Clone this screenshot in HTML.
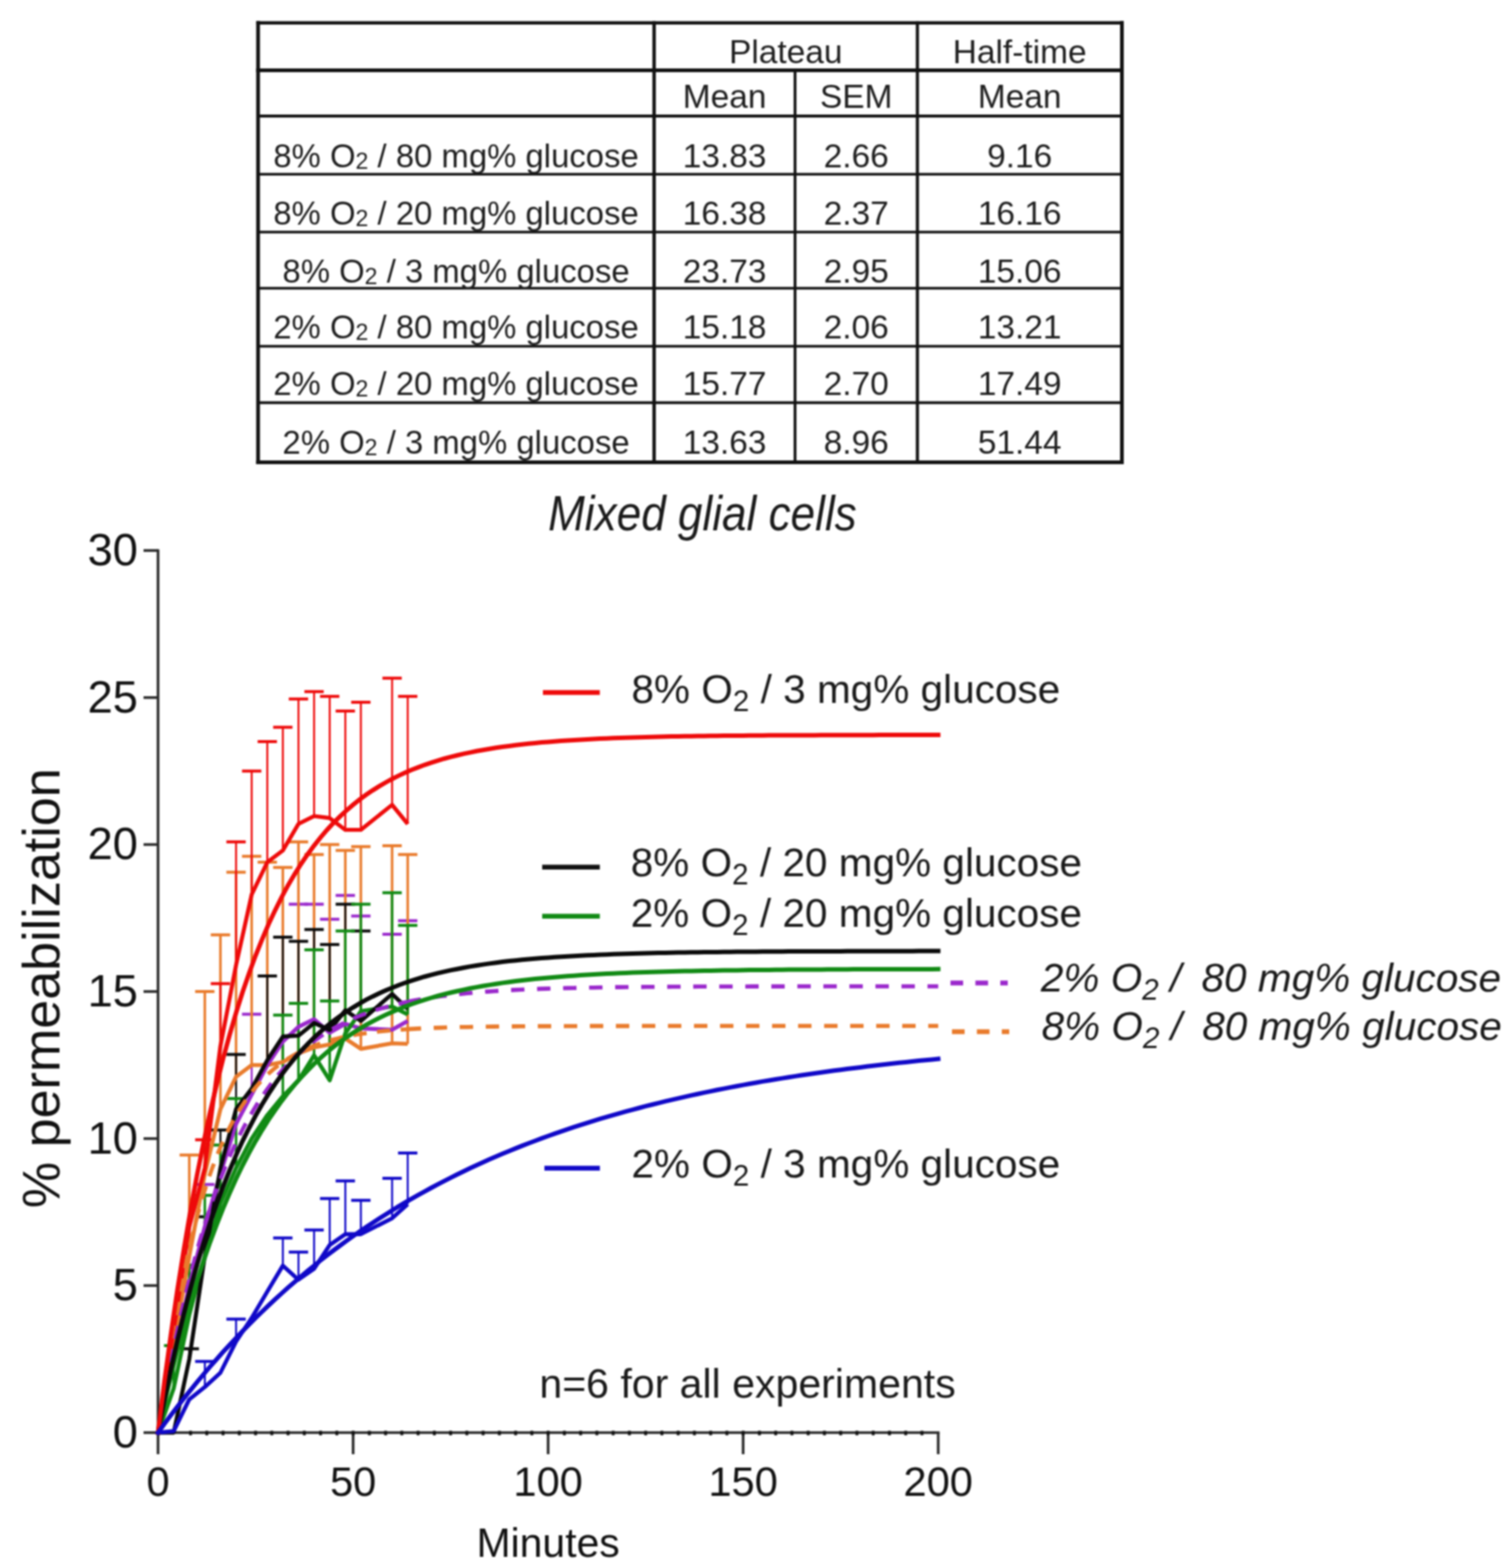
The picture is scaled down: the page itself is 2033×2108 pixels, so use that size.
<!DOCTYPE html><html><head><meta charset="utf-8"><style>html,body{margin:0;padding:0;background:#fff}svg{display:block;filter:blur(1px)}</style></head><body>
<svg width="2033" height="2108" viewBox="0 0 2033 2108">
<rect width="2033" height="2108" fill="#fff"/>
<g stroke="#111" stroke-linecap="square"><line x1="347.0" y1="30.8" x2="1508.5" y2="30.8" stroke-width="4.5"/><line x1="347.0" y1="94.5" x2="1508.5" y2="94.5" stroke-width="5.0"/><line x1="347.0" y1="156.0" x2="1508.5" y2="156.0" stroke-width="4.0"/><line x1="347.0" y1="234.2" x2="1508.5" y2="234.2" stroke-width="3.6"/><line x1="347.0" y1="312.0" x2="1508.5" y2="312.0" stroke-width="3.6"/><line x1="347.0" y1="387.5" x2="1508.5" y2="387.5" stroke-width="3.6"/><line x1="347.0" y1="465.5" x2="1508.5" y2="465.5" stroke-width="3.6"/><line x1="347.0" y1="541.4" x2="1508.5" y2="541.4" stroke-width="3.6"/><line x1="347.0" y1="621.5" x2="1508.5" y2="621.5" stroke-width="5.0"/><line x1="347.0" y1="30.8" x2="347.0" y2="621.5" stroke-width="5"/><line x1="1508.5" y1="30.8" x2="1508.5" y2="621.5" stroke-width="5"/><line x1="879.5" y1="30.8" x2="879.5" y2="621.5" stroke-width="4.6"/><line x1="1233.5" y1="30.8" x2="1233.5" y2="621.5" stroke-width="4.2"/><line x1="1069.0" y1="94.5" x2="1069.0" y2="621.5" stroke-width="3.8"/></g>
<g font-family="Liberation Sans, Arial, sans-serif" font-size="45" fill="#1e1e1e" text-anchor="middle">
<text x="1056.5" y="84.8">Plateau</text>
<text x="1371.0" y="84.8">Half-time</text>
<text x="974.2" y="144.6">Mean</text>
<text x="1151.2" y="144.6">SEM</text>
<text x="1371.0" y="144.6">Mean</text>
<text x="613.2" y="224.6" font-size="44.2">8% O<tspan font-size="31" dy="2">2</tspan><tspan dy="-2"> / 80 mg% glucose</tspan></text>
<text x="974.2" y="224.6">13.83</text>
<text x="1151.2" y="224.6">2.66</text>
<text x="1371.0" y="224.6">9.16</text>
<text x="613.2" y="301.8" font-size="44.2">8% O<tspan font-size="31" dy="2">2</tspan><tspan dy="-2"> / 20 mg% glucose</tspan></text>
<text x="974.2" y="301.8">16.38</text>
<text x="1151.2" y="301.8">2.37</text>
<text x="1371.0" y="301.8">16.16</text>
<text x="613.2" y="379.6" font-size="44.2">8% O<tspan font-size="31" dy="2">2</tspan><tspan dy="-2"> / 3 mg% glucose</tspan></text>
<text x="974.2" y="379.6">23.73</text>
<text x="1151.2" y="379.6">2.95</text>
<text x="1371.0" y="379.6">15.06</text>
<text x="613.2" y="454.6" font-size="44.2">2% O<tspan font-size="31" dy="2">2</tspan><tspan dy="-2"> / 80 mg% glucose</tspan></text>
<text x="974.2" y="454.6">15.18</text>
<text x="1151.2" y="454.6">2.06</text>
<text x="1371.0" y="454.6">13.21</text>
<text x="613.2" y="530.5" font-size="44.2">2% O<tspan font-size="31" dy="2">2</tspan><tspan dy="-2"> / 20 mg% glucose</tspan></text>
<text x="974.2" y="530.5">15.77</text>
<text x="1151.2" y="530.5">2.70</text>
<text x="1371.0" y="530.5">17.49</text>
<text x="613.2" y="609.6" font-size="44.2">2% O<tspan font-size="31" dy="2">2</tspan><tspan dy="-2"> / 3 mg% glucose</tspan></text>
<text x="974.2" y="609.6">13.63</text>
<text x="1151.2" y="609.6">8.96</text>
<text x="1371.0" y="609.6">51.44</text>
</g>
<text x="737" y="712.5" font-family="Liberation Sans, Arial, sans-serif" font-style="italic" font-size="66" fill="#1a1a1a" textLength="415" lengthAdjust="spacingAndGlyphs">Mixed glial cells</text>
<g stroke="#2a2a2a" fill="none" stroke-width="3.6"><line x1="212.5" y1="738.6" x2="212.5" y2="1955.0"/><line x1="210.7" y1="1926.0" x2="1263.3" y2="1926.0"/><line x1="193.0" y1="1926.0" x2="212.5" y2="1926.0"/><line x1="193.0" y1="1728.3" x2="212.5" y2="1728.3"/><line x1="193.0" y1="1530.7" x2="212.5" y2="1530.7"/><line x1="193.0" y1="1333.0" x2="212.5" y2="1333.0"/><line x1="193.0" y1="1135.4" x2="212.5" y2="1135.4"/><line x1="193.0" y1="937.8" x2="212.5" y2="937.8"/><line x1="193.0" y1="740.1" x2="212.5" y2="740.1"/><line x1="474.8" y1="1926.0" x2="474.8" y2="1955.0"/><line x1="737.0" y1="1926.0" x2="737.0" y2="1955.0"/><line x1="999.2" y1="1926.0" x2="999.2" y2="1955.0"/><line x1="1261.5" y1="1926.0" x2="1261.5" y2="1955.0"/></g><line x1="254.21" y1="1926.5" x2="1257.5" y2="1926.5" stroke="#111" stroke-width="6" stroke-dasharray="4 17.854" />
<g font-family="Liberation Sans, Arial, sans-serif" fill="#111"><text x="185.5" y="1946.0" font-size="61" text-anchor="end">0</text><text x="185.5" y="1748.3" font-size="61" text-anchor="end">5</text><text x="185.5" y="1550.7" font-size="61" text-anchor="end">10</text><text x="185.5" y="1353.0" font-size="61" text-anchor="end">15</text><text x="185.5" y="1155.4" font-size="61" text-anchor="end">20</text><text x="185.5" y="957.8" font-size="61" text-anchor="end">25</text><text x="185.5" y="760.1" font-size="61" text-anchor="end">30</text><text x="212.5" y="2011" font-size="56" text-anchor="middle">0</text><text x="474.8" y="2011" font-size="56" text-anchor="middle">50</text><text x="737.0" y="2011" font-size="56" text-anchor="middle">100</text><text x="999.2" y="2011" font-size="56" text-anchor="middle">150</text><text x="1261.5" y="2011" font-size="56" text-anchor="middle">200</text><text x="737.0" y="2092.8" font-size="55" text-anchor="middle">Minutes</text><text transform="translate(79.6 1328.5) rotate(-90)" font-size="70" text-anchor="middle">% permeabilization</text></g>
<g fill="none"><line x1="275.4" y1="1649.3" x2="275.4" y2="1592.4" stroke="#9a28cc" stroke-width="2.6"/><line x1="262.4" y1="1592.4" x2="288.4" y2="1592.4" stroke="#9a28cc" stroke-width="4"/><line x1="338.4" y1="1471.4" x2="338.4" y2="1363.5" stroke="#9a28cc" stroke-width="2.6"/><line x1="325.4" y1="1363.5" x2="351.4" y2="1363.5" stroke="#9a28cc" stroke-width="4"/><line x1="401.3" y1="1380.5" x2="401.3" y2="1215.6" stroke="#9a28cc" stroke-width="2.6"/><line x1="388.3" y1="1215.6" x2="414.3" y2="1215.6" stroke="#9a28cc" stroke-width="4"/><line x1="422.3" y1="1370.2" x2="422.3" y2="1215.6" stroke="#9a28cc" stroke-width="2.6"/><line x1="409.3" y1="1215.6" x2="435.3" y2="1215.6" stroke="#9a28cc" stroke-width="4"/><line x1="443.3" y1="1388.4" x2="443.3" y2="1235.8" stroke="#9a28cc" stroke-width="2.6"/><line x1="430.3" y1="1235.8" x2="456.3" y2="1235.8" stroke="#9a28cc" stroke-width="4"/><line x1="464.3" y1="1376.5" x2="464.3" y2="1203.8" stroke="#9a28cc" stroke-width="2.6"/><line x1="451.3" y1="1203.8" x2="477.3" y2="1203.8" stroke="#9a28cc" stroke-width="4"/><line x1="485.2" y1="1382.5" x2="485.2" y2="1231.5" stroke="#9a28cc" stroke-width="2.6"/><line x1="472.2" y1="1231.5" x2="498.2" y2="1231.5" stroke="#9a28cc" stroke-width="4"/><line x1="527.2" y1="1384.4" x2="527.2" y2="1256.0" stroke="#9a28cc" stroke-width="2.6"/><line x1="514.2" y1="1256.0" x2="540.2" y2="1256.0" stroke="#9a28cc" stroke-width="4"/><line x1="548.2" y1="1372.6" x2="548.2" y2="1237.8" stroke="#9a28cc" stroke-width="2.6"/><line x1="535.2" y1="1237.8" x2="561.2" y2="1237.8" stroke="#9a28cc" stroke-width="4"/><line x1="254.5" y1="1688.8" x2="254.5" y2="1552.8" stroke="#e97b2c" stroke-width="3.4"/><line x1="241.5" y1="1552.8" x2="267.5" y2="1552.8" stroke="#e97b2c" stroke-width="4"/><line x1="275.4" y1="1578.1" x2="275.4" y2="1333.0" stroke="#e97b2c" stroke-width="3.4"/><line x1="262.4" y1="1333.0" x2="288.4" y2="1333.0" stroke="#e97b2c" stroke-width="4"/><line x1="296.4" y1="1491.2" x2="296.4" y2="1256.8" stroke="#e97b2c" stroke-width="3.4"/><line x1="283.4" y1="1256.8" x2="309.4" y2="1256.8" stroke="#e97b2c" stroke-width="4"/><line x1="317.4" y1="1447.7" x2="317.4" y2="1172.6" stroke="#e97b2c" stroke-width="3.4"/><line x1="304.4" y1="1172.6" x2="330.4" y2="1172.6" stroke="#e97b2c" stroke-width="4"/><line x1="338.4" y1="1431.9" x2="338.4" y2="1151.2" stroke="#e97b2c" stroke-width="3.4"/><line x1="325.4" y1="1151.2" x2="351.4" y2="1151.2" stroke="#e97b2c" stroke-width="4"/><line x1="359.4" y1="1431.9" x2="359.4" y2="1159.1" stroke="#e97b2c" stroke-width="3.4"/><line x1="346.4" y1="1159.1" x2="372.4" y2="1159.1" stroke="#e97b2c" stroke-width="4"/><line x1="380.3" y1="1427.9" x2="380.3" y2="1166.2" stroke="#e97b2c" stroke-width="3.4"/><line x1="367.3" y1="1166.2" x2="393.3" y2="1166.2" stroke="#e97b2c" stroke-width="4"/><line x1="401.3" y1="1416.1" x2="401.3" y2="1131.8" stroke="#e97b2c" stroke-width="3.4"/><line x1="388.3" y1="1131.8" x2="414.3" y2="1131.8" stroke="#e97b2c" stroke-width="4"/><line x1="422.3" y1="1408.2" x2="422.3" y2="1148.8" stroke="#e97b2c" stroke-width="3.4"/><line x1="409.3" y1="1148.8" x2="435.3" y2="1148.8" stroke="#e97b2c" stroke-width="4"/><line x1="443.3" y1="1404.2" x2="443.3" y2="1135.4" stroke="#e97b2c" stroke-width="3.4"/><line x1="430.3" y1="1135.4" x2="456.3" y2="1135.4" stroke="#e97b2c" stroke-width="4"/><line x1="464.3" y1="1396.3" x2="464.3" y2="1143.3" stroke="#e97b2c" stroke-width="3.4"/><line x1="451.3" y1="1143.3" x2="477.3" y2="1143.3" stroke="#e97b2c" stroke-width="4"/><line x1="485.2" y1="1410.1" x2="485.2" y2="1138.2" stroke="#e97b2c" stroke-width="3.4"/><line x1="472.2" y1="1138.2" x2="498.2" y2="1138.2" stroke="#e97b2c" stroke-width="4"/><line x1="527.2" y1="1402.6" x2="527.2" y2="1137.0" stroke="#e97b2c" stroke-width="3.4"/><line x1="514.2" y1="1137.0" x2="540.2" y2="1137.0" stroke="#e97b2c" stroke-width="4"/><line x1="548.2" y1="1403.4" x2="548.2" y2="1148.8" stroke="#e97b2c" stroke-width="3.4"/><line x1="535.2" y1="1148.8" x2="561.2" y2="1148.8" stroke="#e97b2c" stroke-width="4"/><line x1="254.5" y1="1827.2" x2="254.5" y2="1813.3" stroke="#0a0a0a" stroke-width="2.6"/><line x1="241.5" y1="1813.3" x2="267.5" y2="1813.3" stroke="#0a0a0a" stroke-width="4"/><line x1="275.4" y1="1688.8" x2="275.4" y2="1635.8" stroke="#0a0a0a" stroke-width="2.6"/><line x1="262.4" y1="1635.8" x2="288.4" y2="1635.8" stroke="#0a0a0a" stroke-width="4"/><line x1="296.4" y1="1570.2" x2="296.4" y2="1519.2" stroke="#0a0a0a" stroke-width="2.6"/><line x1="283.4" y1="1519.2" x2="309.4" y2="1519.2" stroke="#0a0a0a" stroke-width="4"/><line x1="317.4" y1="1491.2" x2="317.4" y2="1417.6" stroke="#0a0a0a" stroke-width="2.6"/><line x1="304.4" y1="1417.6" x2="330.4" y2="1417.6" stroke="#0a0a0a" stroke-width="4"/><line x1="359.4" y1="1425.2" x2="359.4" y2="1312.1" stroke="#0a0a0a" stroke-width="2.6"/><line x1="346.4" y1="1312.1" x2="372.4" y2="1312.1" stroke="#0a0a0a" stroke-width="4"/><line x1="380.3" y1="1393.5" x2="380.3" y2="1259.9" stroke="#0a0a0a" stroke-width="2.6"/><line x1="367.3" y1="1259.9" x2="393.3" y2="1259.9" stroke="#0a0a0a" stroke-width="4"/><line x1="401.3" y1="1392.3" x2="401.3" y2="1265.5" stroke="#0a0a0a" stroke-width="2.6"/><line x1="388.3" y1="1265.5" x2="414.3" y2="1265.5" stroke="#0a0a0a" stroke-width="4"/><line x1="422.3" y1="1375.3" x2="422.3" y2="1249.6" stroke="#0a0a0a" stroke-width="2.6"/><line x1="409.3" y1="1249.6" x2="435.3" y2="1249.6" stroke="#0a0a0a" stroke-width="4"/><line x1="443.3" y1="1384.8" x2="443.3" y2="1269.8" stroke="#0a0a0a" stroke-width="2.6"/><line x1="430.3" y1="1269.8" x2="456.3" y2="1269.8" stroke="#0a0a0a" stroke-width="4"/><line x1="464.3" y1="1358.3" x2="464.3" y2="1215.6" stroke="#0a0a0a" stroke-width="2.6"/><line x1="451.3" y1="1215.6" x2="477.3" y2="1215.6" stroke="#0a0a0a" stroke-width="4"/><line x1="485.2" y1="1372.6" x2="485.2" y2="1251.6" stroke="#0a0a0a" stroke-width="2.6"/><line x1="472.2" y1="1251.6" x2="498.2" y2="1251.6" stroke="#0a0a0a" stroke-width="4"/><line x1="233.5" y1="1866.7" x2="233.5" y2="1809.0" stroke="#118a14" stroke-width="3.4"/><line x1="220.5" y1="1809.0" x2="246.5" y2="1809.0" stroke="#118a14" stroke-width="4"/><line x1="254.5" y1="1767.9" x2="254.5" y2="1700.7" stroke="#118a14" stroke-width="3.4"/><line x1="241.5" y1="1700.7" x2="267.5" y2="1700.7" stroke="#118a14" stroke-width="4"/><line x1="275.4" y1="1688.8" x2="275.4" y2="1607.0" stroke="#118a14" stroke-width="3.4"/><line x1="262.4" y1="1607.0" x2="288.4" y2="1607.0" stroke="#118a14" stroke-width="4"/><line x1="296.4" y1="1617.7" x2="296.4" y2="1539.4" stroke="#118a14" stroke-width="3.4"/><line x1="283.4" y1="1539.4" x2="309.4" y2="1539.4" stroke="#118a14" stroke-width="4"/><line x1="317.4" y1="1570.2" x2="317.4" y2="1476.9" stroke="#118a14" stroke-width="3.4"/><line x1="304.4" y1="1476.9" x2="330.4" y2="1476.9" stroke="#118a14" stroke-width="4"/><line x1="380.3" y1="1473.8" x2="380.3" y2="1364.7" stroke="#118a14" stroke-width="3.4"/><line x1="367.3" y1="1364.7" x2="393.3" y2="1364.7" stroke="#118a14" stroke-width="4"/><line x1="401.3" y1="1452.4" x2="401.3" y2="1348.9" stroke="#118a14" stroke-width="3.4"/><line x1="388.3" y1="1348.9" x2="414.3" y2="1348.9" stroke="#118a14" stroke-width="4"/><line x1="422.3" y1="1418.8" x2="422.3" y2="1276.9" stroke="#118a14" stroke-width="3.4"/><line x1="409.3" y1="1276.9" x2="435.3" y2="1276.9" stroke="#118a14" stroke-width="4"/><line x1="443.3" y1="1452.4" x2="443.3" y2="1345.7" stroke="#118a14" stroke-width="3.4"/><line x1="430.3" y1="1345.7" x2="456.3" y2="1345.7" stroke="#118a14" stroke-width="4"/><line x1="464.3" y1="1389.2" x2="464.3" y2="1251.6" stroke="#118a14" stroke-width="3.4"/><line x1="451.3" y1="1251.6" x2="477.3" y2="1251.6" stroke="#118a14" stroke-width="4"/><line x1="485.2" y1="1359.5" x2="485.2" y2="1215.6" stroke="#118a14" stroke-width="3.4"/><line x1="472.2" y1="1215.6" x2="498.2" y2="1215.6" stroke="#118a14" stroke-width="4"/><line x1="527.2" y1="1353.2" x2="527.2" y2="1200.2" stroke="#118a14" stroke-width="3.4"/><line x1="514.2" y1="1200.2" x2="540.2" y2="1200.2" stroke="#118a14" stroke-width="4"/><line x1="548.2" y1="1363.9" x2="548.2" y2="1244.1" stroke="#118a14" stroke-width="3.4"/><line x1="535.2" y1="1244.1" x2="561.2" y2="1244.1" stroke="#118a14" stroke-width="4"/><line x1="275.4" y1="1570.2" x2="275.4" y2="1532.3" stroke="#ee0a0a" stroke-width="2.6"/><line x1="262.4" y1="1532.3" x2="288.4" y2="1532.3" stroke="#ee0a0a" stroke-width="4"/><line x1="296.4" y1="1406.2" x2="296.4" y2="1322.4" stroke="#ee0a0a" stroke-width="2.6"/><line x1="283.4" y1="1322.4" x2="309.4" y2="1322.4" stroke="#ee0a0a" stroke-width="4"/><line x1="317.4" y1="1297.5" x2="317.4" y2="1131.8" stroke="#ee0a0a" stroke-width="2.6"/><line x1="304.4" y1="1131.8" x2="330.4" y2="1131.8" stroke="#ee0a0a" stroke-width="4"/><line x1="338.4" y1="1202.6" x2="338.4" y2="1036.6" stroke="#ee0a0a" stroke-width="2.6"/><line x1="325.4" y1="1036.6" x2="351.4" y2="1036.6" stroke="#ee0a0a" stroke-width="4"/><line x1="359.4" y1="1159.1" x2="359.4" y2="997.0" stroke="#ee0a0a" stroke-width="2.6"/><line x1="346.4" y1="997.0" x2="372.4" y2="997.0" stroke="#ee0a0a" stroke-width="4"/><line x1="380.3" y1="1143.3" x2="380.3" y2="977.7" stroke="#ee0a0a" stroke-width="2.6"/><line x1="367.3" y1="977.7" x2="393.3" y2="977.7" stroke="#ee0a0a" stroke-width="4"/><line x1="401.3" y1="1107.7" x2="401.3" y2="939.7" stroke="#ee0a0a" stroke-width="2.6"/><line x1="388.3" y1="939.7" x2="414.3" y2="939.7" stroke="#ee0a0a" stroke-width="4"/><line x1="422.3" y1="1097.1" x2="422.3" y2="929.8" stroke="#ee0a0a" stroke-width="2.6"/><line x1="409.3" y1="929.8" x2="435.3" y2="929.8" stroke="#ee0a0a" stroke-width="4"/><line x1="443.3" y1="1099.8" x2="443.3" y2="936.2" stroke="#ee0a0a" stroke-width="2.6"/><line x1="430.3" y1="936.2" x2="456.3" y2="936.2" stroke="#ee0a0a" stroke-width="4"/><line x1="464.3" y1="1115.6" x2="464.3" y2="955.9" stroke="#ee0a0a" stroke-width="2.6"/><line x1="451.3" y1="955.9" x2="477.3" y2="955.9" stroke="#ee0a0a" stroke-width="4"/><line x1="485.2" y1="1115.6" x2="485.2" y2="944.1" stroke="#ee0a0a" stroke-width="2.6"/><line x1="472.2" y1="944.1" x2="498.2" y2="944.1" stroke="#ee0a0a" stroke-width="4"/><line x1="527.2" y1="1082.0" x2="527.2" y2="911.7" stroke="#ee0a0a" stroke-width="2.6"/><line x1="514.2" y1="911.7" x2="540.2" y2="911.7" stroke="#ee0a0a" stroke-width="4"/><line x1="548.2" y1="1107.7" x2="548.2" y2="936.2" stroke="#ee0a0a" stroke-width="2.6"/><line x1="535.2" y1="936.2" x2="561.2" y2="936.2" stroke="#ee0a0a" stroke-width="4"/><line x1="275.4" y1="1864.7" x2="275.4" y2="1830.3" stroke="#1008c8" stroke-width="2.6"/><line x1="262.4" y1="1830.3" x2="288.4" y2="1830.3" stroke="#1008c8" stroke-width="4"/><line x1="317.4" y1="1803.5" x2="317.4" y2="1773.4" stroke="#1008c8" stroke-width="2.6"/><line x1="304.4" y1="1773.4" x2="330.4" y2="1773.4" stroke="#1008c8" stroke-width="4"/><line x1="380.3" y1="1701.5" x2="380.3" y2="1664.3" stroke="#1008c8" stroke-width="2.6"/><line x1="367.3" y1="1664.3" x2="393.3" y2="1664.3" stroke="#1008c8" stroke-width="4"/><line x1="401.3" y1="1720.4" x2="401.3" y2="1683.3" stroke="#1008c8" stroke-width="2.6"/><line x1="388.3" y1="1683.3" x2="414.3" y2="1683.3" stroke="#1008c8" stroke-width="4"/><line x1="422.3" y1="1705.8" x2="422.3" y2="1653.6" stroke="#1008c8" stroke-width="2.6"/><line x1="409.3" y1="1653.6" x2="435.3" y2="1653.6" stroke="#1008c8" stroke-width="4"/><line x1="443.3" y1="1673.8" x2="443.3" y2="1611.3" stroke="#1008c8" stroke-width="2.6"/><line x1="430.3" y1="1611.3" x2="456.3" y2="1611.3" stroke="#1008c8" stroke-width="4"/><line x1="464.3" y1="1659.2" x2="464.3" y2="1587.6" stroke="#1008c8" stroke-width="2.6"/><line x1="451.3" y1="1587.6" x2="477.3" y2="1587.6" stroke="#1008c8" stroke-width="4"/><line x1="485.2" y1="1659.2" x2="485.2" y2="1613.7" stroke="#1008c8" stroke-width="2.6"/><line x1="472.2" y1="1613.7" x2="498.2" y2="1613.7" stroke="#1008c8" stroke-width="4"/><line x1="527.2" y1="1637.8" x2="527.2" y2="1584.1" stroke="#1008c8" stroke-width="2.6"/><line x1="514.2" y1="1584.1" x2="540.2" y2="1584.1" stroke="#1008c8" stroke-width="4"/><line x1="548.2" y1="1618.9" x2="548.2" y2="1550.1" stroke="#1008c8" stroke-width="2.6"/><line x1="535.2" y1="1550.1" x2="561.2" y2="1550.1" stroke="#1008c8" stroke-width="4"/></g>
<polyline points="212.5,1926.0 233.5,1807.4 254.5,1688.8 275.4,1578.1 296.4,1491.2 317.4,1447.7 338.4,1431.9 359.4,1431.9 380.3,1427.9 401.3,1416.1 422.3,1408.2 443.3,1404.2 464.3,1396.3 485.2,1410.1 527.2,1402.6 548.2,1403.4" fill="none" stroke="#e97b2c" stroke-width="5.4" stroke-linejoin="round"/>
<polyline points="212.5,1926.0 233.5,1827.2 254.5,1728.3 275.4,1649.3 296.4,1578.1 317.4,1510.9 338.4,1471.4 359.4,1431.9 380.3,1400.3 401.3,1380.5 422.3,1370.2 443.3,1388.4 464.3,1376.5 485.2,1382.5 527.2,1384.4 548.2,1372.6" fill="none" stroke="#9a28cc" stroke-width="5.4" stroke-linejoin="round"/>
<polyline points="212.5,1926.0 233.5,1866.7 254.5,1767.9 275.4,1688.8 296.4,1617.7 317.4,1570.2 338.4,1530.7 359.4,1499.1 380.3,1473.8 401.3,1452.4 422.3,1418.8 443.3,1452.4 464.3,1389.2 485.2,1359.5 527.2,1353.2 548.2,1363.9" fill="none" stroke="#118a14" stroke-width="5.4" stroke-linejoin="round"/>
<polyline points="212.5,1926.0 233.5,1926.0 254.5,1827.2 275.4,1688.8 296.4,1570.2 317.4,1491.2 338.4,1463.5 359.4,1425.2 380.3,1393.5 401.3,1392.3 422.3,1375.3 443.3,1384.8 464.3,1358.3 485.2,1372.6 527.2,1336.2 548.2,1356.4" fill="none" stroke="#0a0a0a" stroke-width="5.4" stroke-linejoin="round"/>
<polyline points="212.5,1926.0 233.5,1787.6 254.5,1649.3 275.4,1570.2 296.4,1406.2 317.4,1297.5 338.4,1202.6 359.4,1159.1 380.3,1143.3 401.3,1107.7 422.3,1097.1 443.3,1099.8 464.3,1115.6 485.2,1115.6 527.2,1082.0 548.2,1107.7" fill="none" stroke="#ee0a0a" stroke-width="5.4" stroke-linejoin="round"/>
<polyline points="212.5,1926.0 233.5,1924.0 254.5,1881.3 275.4,1864.7 296.4,1845.4 317.4,1803.5 338.4,1771.8 359.4,1736.3 380.3,1701.5 401.3,1720.4 422.3,1705.8 443.3,1673.8 464.3,1659.2 485.2,1659.2 527.2,1637.8 548.2,1618.9" fill="none" stroke="#1008c8" stroke-width="5.4" stroke-linejoin="round"/>
<path d="M212.5,1926.0 L218.1,1883.6 L223.7,1844.5 L229.3,1808.4 L234.9,1775.2 L240.5,1744.5 L246.1,1716.1 L251.7,1690.0 L257.3,1665.9 L262.9,1643.7 L268.4,1623.2 L274.0,1604.3 L279.6,1586.8 L285.2,1570.7 L290.8,1555.9 L296.4,1542.2 L302.0,1529.6 L307.6,1517.9 L313.2,1507.2 L318.8,1497.3 L324.4,1488.1 L330.0,1479.7 L335.6,1471.9 L341.2,1464.7 L346.8,1458.1 L352.4,1452.0 L358.0,1446.3 L363.6,1441.1 L369.2,1436.3 L374.7,1431.9 L380.3,1427.8 L385.9,1424.1 L391.5,1420.6 L397.1,1417.4 L402.7,1414.4 L408.3,1411.7 L413.9,1409.2 L419.5,1406.9 L425.1,1404.7 L430.7,1402.8 L436.3,1401.0 L441.9,1399.3 L447.5,1397.7 L453.1,1396.3 L458.7,1395.0 L464.3,1393.8 L469.9,1392.6 L475.4,1391.6 L481.0,1390.7 L486.6,1389.8 L492.2,1389.0 L497.8,1388.2 L503.4,1387.5 L509.0,1386.9 L514.6,1386.3 L520.2,1385.8 L525.8,1385.3 L531.4,1384.8 L537.0,1384.4 L542.6,1384.0 L548.2,1383.6" fill="none" stroke="#e97b2c" stroke-width="5.4" stroke-dasharray="18 14"/>
<path d="M548.2,1383.6 L557.1,1383.1 L566.0,1382.6 L574.9,1382.2 L583.8,1381.9 L592.8,1381.6 L601.7,1381.3 L610.6,1381.1 L619.5,1380.8 L628.4,1380.7 L637.3,1380.5 L646.3,1380.3 L655.2,1380.2 L664.1,1380.1 L673.0,1380.0 L681.9,1379.9 L690.8,1379.9 L699.8,1379.8 L708.7,1379.7 L717.6,1379.7 L726.5,1379.6 L735.4,1379.6 L744.3,1379.6 L753.3,1379.5 L762.2,1379.5 L771.1,1379.5 L780.0,1379.5 L788.9,1379.4 L797.8,1379.4 L806.8,1379.4 L815.7,1379.4 L824.6,1379.4 L833.5,1379.4 L842.4,1379.4 L851.3,1379.4 L860.3,1379.3 L869.2,1379.3 L878.1,1379.3 L887.0,1379.3 L895.9,1379.3 L904.8,1379.3 L913.8,1379.3 L922.7,1379.3 L931.6,1379.3 L940.5,1379.3 L949.4,1379.3 L958.3,1379.3 L967.3,1379.3 L976.2,1379.3 L985.1,1379.3 L994.0,1379.3 L1002.9,1379.3 L1011.8,1379.3 L1020.8,1379.3 L1029.7,1379.3 L1038.6,1379.3 L1047.5,1379.3 L1056.4,1379.3 L1065.3,1379.3 L1074.3,1379.3 L1083.2,1379.3 L1092.1,1379.3 L1101.0,1379.3 L1109.9,1379.3 L1118.8,1379.3 L1127.8,1379.3 L1136.7,1379.3 L1145.6,1379.3 L1154.5,1379.3 L1163.4,1379.3 L1172.3,1379.3 L1181.3,1379.3 L1190.2,1379.3 L1199.1,1379.3 L1208.0,1379.3 L1216.9,1379.3 L1225.8,1379.3 L1234.8,1379.3 L1243.7,1379.3 L1252.6,1379.3 L1261.5,1379.3" fill="none" stroke="#e97b2c" stroke-width="5.6" stroke-dasharray="18 17"/>
<path d="M212.5,1926.0 L218.1,1893.3 L223.7,1862.5 L229.3,1833.2 L234.9,1805.6 L240.5,1779.5 L246.1,1754.8 L251.7,1731.5 L257.3,1709.4 L262.9,1688.5 L268.4,1668.8 L274.0,1650.1 L279.6,1632.5 L285.2,1615.8 L290.8,1600.0 L296.4,1585.1 L302.0,1571.0 L307.6,1557.7 L313.2,1545.0 L318.8,1533.1 L324.4,1521.8 L330.0,1511.2 L335.6,1501.1 L341.2,1491.6 L346.8,1482.5 L352.4,1474.0 L358.0,1466.0 L363.6,1458.3 L369.2,1451.1 L374.7,1444.3 L380.3,1437.9 L385.9,1431.8 L391.5,1426.0 L397.1,1420.6 L402.7,1415.4 L408.3,1410.5 L413.9,1405.9 L419.5,1401.6 L425.1,1397.5 L430.7,1393.6 L436.3,1389.9 L441.9,1386.4 L447.5,1383.1 L453.1,1380.0 L458.7,1377.1 L464.3,1374.3 L469.9,1371.7 L475.4,1369.2 L481.0,1366.8 L486.6,1364.6 L492.2,1362.5 L497.8,1360.5 L503.4,1358.6 L509.0,1356.8 L514.6,1355.1 L520.2,1353.6 L525.8,1352.1 L531.4,1350.6 L537.0,1349.3 L542.6,1348.0 L548.2,1346.8" fill="none" stroke="#9a28cc" stroke-width="5.4" stroke-dasharray="18 14"/>
<path d="M548.2,1346.8 L557.1,1345.0 L566.0,1343.4 L574.9,1341.9 L583.8,1340.5 L592.8,1339.3 L601.7,1338.2 L610.6,1337.1 L619.5,1336.2 L628.4,1335.3 L637.3,1334.5 L646.3,1333.8 L655.2,1333.1 L664.1,1332.5 L673.0,1331.9 L681.9,1331.4 L690.8,1330.9 L699.8,1330.5 L708.7,1330.1 L717.6,1329.8 L726.5,1329.4 L735.4,1329.1 L744.3,1328.9 L753.3,1328.6 L762.2,1328.4 L771.1,1328.2 L780.0,1328.0 L788.9,1327.8 L797.8,1327.7 L806.8,1327.5 L815.7,1327.4 L824.6,1327.2 L833.5,1327.1 L842.4,1327.0 L851.3,1326.9 L860.3,1326.9 L869.2,1326.8 L878.1,1326.7 L887.0,1326.6 L895.9,1326.6 L904.8,1326.5 L913.8,1326.5 L922.7,1326.4 L931.6,1326.4 L940.5,1326.3 L949.4,1326.3 L958.3,1326.3 L967.3,1326.3 L976.2,1326.2 L985.1,1326.2 L994.0,1326.2 L1002.9,1326.2 L1011.8,1326.1 L1020.8,1326.1 L1029.7,1326.1 L1038.6,1326.1 L1047.5,1326.1 L1056.4,1326.1 L1065.3,1326.1 L1074.3,1326.0 L1083.2,1326.0 L1092.1,1326.0 L1101.0,1326.0 L1109.9,1326.0 L1118.8,1326.0 L1127.8,1326.0 L1136.7,1326.0 L1145.6,1326.0 L1154.5,1326.0 L1163.4,1326.0 L1172.3,1326.0 L1181.3,1326.0 L1190.2,1326.0 L1199.1,1326.0 L1208.0,1326.0 L1216.9,1326.0 L1225.8,1326.0 L1234.8,1326.0 L1243.7,1326.0 L1252.6,1326.0 L1261.5,1326.0" fill="none" stroke="#9a28cc" stroke-width="5.6" stroke-dasharray="18 17"/>
<path d="M212.5,1926.0 L221.2,1886.2 L230.0,1848.9 L238.7,1813.9 L247.5,1781.3 L256.2,1750.7 L264.9,1722.0 L273.7,1695.2 L282.4,1670.1 L291.2,1646.6 L299.9,1624.6 L308.7,1604.1 L317.4,1584.8 L326.1,1566.8 L334.9,1549.9 L343.6,1534.1 L352.4,1519.3 L361.1,1505.4 L369.9,1492.5 L378.6,1480.3 L387.3,1469.0 L396.1,1458.3 L404.8,1448.4 L413.6,1439.1 L422.3,1430.3 L431.0,1422.2 L439.8,1414.5 L448.5,1407.4 L457.3,1400.7 L466.0,1394.4 L474.8,1388.5 L483.5,1383.1 L492.2,1377.9 L501.0,1373.1 L509.7,1368.6 L518.5,1364.4 L527.2,1360.4 L535.9,1356.7 L544.7,1353.3 L553.4,1350.0 L562.2,1347.0 L570.9,1344.2 L579.7,1341.5 L588.4,1339.0 L597.1,1336.7 L605.9,1334.5 L614.6,1332.5 L623.4,1330.6 L632.1,1328.8 L640.8,1327.1 L649.6,1325.5 L658.3,1324.1 L667.1,1322.7 L675.8,1321.4 L684.5,1320.2 L693.3,1319.1 L702.0,1318.0 L710.8,1317.1 L719.5,1316.1 L728.3,1315.3 L737.0,1314.5 L745.7,1313.7 L754.5,1313.0 L763.2,1312.3 L772.0,1311.7 L780.7,1311.1 L789.5,1310.6 L798.2,1310.1 L806.9,1309.6 L815.7,1309.1 L824.4,1308.7 L833.2,1308.3 L841.9,1308.0 L850.6,1307.6 L859.4,1307.3 L868.1,1307.0 L876.9,1306.7 L885.6,1306.5 L894.4,1306.2 L903.1,1306.0 L911.8,1305.8 L920.6,1305.6 L929.3,1305.4 L938.1,1305.2 L946.8,1305.0 L955.5,1304.9 L964.3,1304.7 L973.0,1304.6 L981.8,1304.5 L990.5,1304.4 L999.2,1304.2 L1008.0,1304.1 L1016.7,1304.0 L1025.5,1304.0 L1034.2,1303.9 L1043.0,1303.8 L1051.7,1303.7 L1060.4,1303.6 L1069.2,1303.6 L1077.9,1303.5 L1086.7,1303.5 L1095.4,1303.4 L1104.2,1303.4 L1112.9,1303.3 L1121.6,1303.3 L1130.4,1303.2 L1139.1,1303.2 L1147.9,1303.1 L1156.6,1303.1 L1165.3,1303.1 L1174.1,1303.0 L1182.8,1303.0 L1191.6,1303.0 L1200.3,1303.0 L1209.1,1302.9 L1217.8,1302.9 L1226.5,1302.9 L1235.3,1302.9 L1244.0,1302.9 L1252.8,1302.9 L1261.5,1302.8" fill="none" stroke="#118a14" stroke-width="6" stroke-linecap="square"/>
<path d="M212.5,1926.0 L221.2,1881.3 L230.0,1839.7 L238.7,1801.0 L247.5,1765.0 L256.2,1731.4 L264.9,1700.2 L273.7,1671.1 L282.4,1644.0 L291.2,1618.8 L299.9,1595.3 L308.7,1573.4 L317.4,1553.1 L326.1,1534.1 L334.9,1516.5 L343.6,1500.1 L352.4,1484.8 L361.1,1470.6 L369.9,1457.3 L378.6,1445.0 L387.3,1433.5 L396.1,1422.8 L404.8,1412.8 L413.6,1403.6 L422.3,1394.9 L431.0,1386.9 L439.8,1379.4 L448.5,1372.5 L457.3,1366.0 L466.0,1359.9 L474.8,1354.3 L483.5,1349.1 L492.2,1344.2 L501.0,1339.7 L509.7,1335.5 L518.5,1331.5 L527.2,1327.9 L535.9,1324.5 L544.7,1321.3 L553.4,1318.3 L562.2,1315.6 L570.9,1313.0 L579.7,1310.7 L588.4,1308.4 L597.1,1306.4 L605.9,1304.4 L614.6,1302.7 L623.4,1301.0 L632.1,1299.4 L640.8,1298.0 L649.6,1296.6 L658.3,1295.4 L667.1,1294.2 L675.8,1293.1 L684.5,1292.1 L693.3,1291.2 L702.0,1290.3 L710.8,1289.5 L719.5,1288.7 L728.3,1288.0 L737.0,1287.4 L745.7,1286.8 L754.5,1286.2 L763.2,1285.7 L772.0,1285.2 L780.7,1284.7 L789.5,1284.3 L798.2,1283.9 L806.9,1283.5 L815.7,1283.2 L824.4,1282.8 L833.2,1282.5 L841.9,1282.3 L850.6,1282.0 L859.4,1281.8 L868.1,1281.5 L876.9,1281.3 L885.6,1281.1 L894.4,1281.0 L903.1,1280.8 L911.8,1280.6 L920.6,1280.5 L929.3,1280.3 L938.1,1280.2 L946.8,1280.1 L955.5,1280.0 L964.3,1279.9 L973.0,1279.8 L981.8,1279.7 L990.5,1279.6 L999.2,1279.5 L1008.0,1279.5 L1016.7,1279.4 L1025.5,1279.3 L1034.2,1279.3 L1043.0,1279.2 L1051.7,1279.2 L1060.4,1279.1 L1069.2,1279.1 L1077.9,1279.0 L1086.7,1279.0 L1095.4,1279.0 L1104.2,1278.9 L1112.9,1278.9 L1121.6,1278.9 L1130.4,1278.9 L1139.1,1278.8 L1147.9,1278.8 L1156.6,1278.8 L1165.3,1278.8 L1174.1,1278.7 L1182.8,1278.7 L1191.6,1278.7 L1200.3,1278.7 L1209.1,1278.7 L1217.8,1278.7 L1226.5,1278.7 L1235.3,1278.6 L1244.0,1278.6 L1252.8,1278.6 L1261.5,1278.6" fill="none" stroke="#0a0a0a" stroke-width="6" stroke-linecap="square"/>
<path d="M212.5,1926.0 L221.2,1856.7 L230.0,1792.6 L238.7,1733.2 L247.5,1678.1 L256.2,1627.2 L264.9,1580.0 L273.7,1536.3 L282.4,1495.8 L291.2,1458.3 L299.9,1423.5 L308.7,1391.4 L317.4,1361.6 L326.1,1334.0 L334.9,1308.4 L343.6,1284.8 L352.4,1262.9 L361.1,1242.6 L369.9,1223.8 L378.6,1206.4 L387.3,1190.2 L396.1,1175.3 L404.8,1161.5 L413.6,1148.6 L422.3,1136.8 L431.0,1125.8 L439.8,1115.6 L448.5,1106.2 L457.3,1097.5 L466.0,1089.4 L474.8,1081.9 L483.5,1074.9 L492.2,1068.5 L501.0,1062.6 L509.7,1057.1 L518.5,1052.0 L527.2,1047.2 L535.9,1042.9 L544.7,1038.8 L553.4,1035.0 L562.2,1031.6 L570.9,1028.3 L579.7,1025.4 L588.4,1022.6 L597.1,1020.0 L605.9,1017.7 L614.6,1015.5 L623.4,1013.4 L632.1,1011.6 L640.8,1009.8 L649.6,1008.2 L658.3,1006.7 L667.1,1005.3 L675.8,1004.0 L684.5,1002.9 L693.3,1001.8 L702.0,1000.7 L710.8,999.8 L719.5,998.9 L728.3,998.1 L737.0,997.4 L745.7,996.7 L754.5,996.0 L763.2,995.4 L772.0,994.9 L780.7,994.4 L789.5,993.9 L798.2,993.5 L806.9,993.0 L815.7,992.7 L824.4,992.3 L833.2,992.0 L841.9,991.7 L850.6,991.4 L859.4,991.2 L868.1,990.9 L876.9,990.7 L885.6,990.5 L894.4,990.3 L903.1,990.1 L911.8,990.0 L920.6,989.8 L929.3,989.7 L938.1,989.6 L946.8,989.4 L955.5,989.3 L964.3,989.2 L973.0,989.1 L981.8,989.1 L990.5,989.0 L999.2,988.9 L1008.0,988.8 L1016.7,988.8 L1025.5,988.7 L1034.2,988.6 L1043.0,988.6 L1051.7,988.5 L1060.4,988.5 L1069.2,988.5 L1077.9,988.4 L1086.7,988.4 L1095.4,988.4 L1104.2,988.3 L1112.9,988.3 L1121.6,988.3 L1130.4,988.3 L1139.1,988.2 L1147.9,988.2 L1156.6,988.2 L1165.3,988.2 L1174.1,988.2 L1182.8,988.1 L1191.6,988.1 L1200.3,988.1 L1209.1,988.1 L1217.8,988.1 L1226.5,988.1 L1235.3,988.1 L1244.0,988.1 L1252.8,988.1 L1261.5,988.0" fill="none" stroke="#ee0a0a" stroke-width="6" stroke-linecap="square"/>
<path d="M212.5,1926.0 L221.2,1914.0 L230.0,1902.3 L238.7,1890.9 L247.5,1879.7 L256.2,1868.8 L264.9,1858.1 L273.7,1847.6 L282.4,1837.4 L291.2,1827.4 L299.9,1817.6 L308.7,1808.1 L317.4,1798.7 L326.1,1789.6 L334.9,1780.6 L343.6,1771.9 L352.4,1763.4 L361.1,1755.0 L369.9,1746.8 L378.6,1738.9 L387.3,1731.0 L396.1,1723.4 L404.8,1715.9 L413.6,1708.6 L422.3,1701.5 L431.0,1694.5 L439.8,1687.7 L448.5,1681.0 L457.3,1674.5 L466.0,1668.1 L474.8,1661.9 L483.5,1655.8 L492.2,1649.8 L501.0,1644.0 L509.7,1638.3 L518.5,1632.7 L527.2,1627.3 L535.9,1621.9 L544.7,1616.7 L553.4,1611.6 L562.2,1606.6 L570.9,1601.8 L579.7,1597.0 L588.4,1592.3 L597.1,1587.8 L605.9,1583.3 L614.6,1579.0 L623.4,1574.7 L632.1,1570.5 L640.8,1566.5 L649.6,1562.5 L658.3,1558.6 L667.1,1554.8 L675.8,1551.1 L684.5,1547.4 L693.3,1543.9 L702.0,1540.4 L710.8,1537.0 L719.5,1533.7 L728.3,1530.4 L737.0,1527.2 L745.7,1524.1 L754.5,1521.1 L763.2,1518.1 L772.0,1515.2 L780.7,1512.4 L789.5,1509.6 L798.2,1506.9 L806.9,1504.2 L815.7,1501.6 L824.4,1499.1 L833.2,1496.6 L841.9,1494.2 L850.6,1491.8 L859.4,1489.5 L868.1,1487.2 L876.9,1485.0 L885.6,1482.8 L894.4,1480.7 L903.1,1478.6 L911.8,1476.6 L920.6,1474.6 L929.3,1472.6 L938.1,1470.7 L946.8,1468.9 L955.5,1467.1 L964.3,1465.3 L973.0,1463.6 L981.8,1461.9 L990.5,1460.2 L999.2,1458.6 L1008.0,1457.0 L1016.7,1455.5 L1025.5,1453.9 L1034.2,1452.5 L1043.0,1451.0 L1051.7,1449.6 L1060.4,1448.2 L1069.2,1446.9 L1077.9,1445.5 L1086.7,1444.2 L1095.4,1443.0 L1104.2,1441.7 L1112.9,1440.5 L1121.6,1439.3 L1130.4,1438.2 L1139.1,1437.0 L1147.9,1435.9 L1156.6,1434.9 L1165.3,1433.8 L1174.1,1432.8 L1182.8,1431.8 L1191.6,1430.8 L1200.3,1429.8 L1209.1,1428.8 L1217.8,1427.9 L1226.5,1427.0 L1235.3,1426.1 L1244.0,1425.3 L1252.8,1424.4 L1261.5,1423.6" fill="none" stroke="#1008c8" stroke-width="6" stroke-linecap="square"/>
<line x1="730" y1="931" x2="806.5" y2="931" stroke="#ee0a0a" stroke-width="6.5"/><text x="849" y="944.8" font-family="Liberation Sans, Arial, sans-serif" font-size="54.5" fill="#1a1a1a">8% O<tspan font-size="40" dy="11">2</tspan><tspan dy="-11"> /</tspan><tspan dx="0"> 3 mg% glucose</tspan></text><line x1="729" y1="1165.7" x2="806.5" y2="1165.7" stroke="#111" stroke-width="6.5"/><text x="848" y="1178.4" font-family="Liberation Sans, Arial, sans-serif" font-size="54.5" fill="#1a1a1a">8% O<tspan font-size="40" dy="11">2</tspan><tspan dy="-11"> /</tspan><tspan dx="0"> 20 mg% glucose</tspan></text><line x1="729" y1="1231.7" x2="806.5" y2="1231.7" stroke="#118a14" stroke-width="6.5"/><text x="848" y="1245.6" font-family="Liberation Sans, Arial, sans-serif" font-size="54.5" fill="#1a1a1a">2% O<tspan font-size="40" dy="11">2</tspan><tspan dy="-11"> /</tspan><tspan dx="0"> 20 mg% glucose</tspan></text><line x1="732" y1="1570.4" x2="806.6" y2="1570.4" stroke="#1008c8" stroke-width="6.5"/><text x="849" y="1582.6" font-family="Liberation Sans, Arial, sans-serif" font-size="54.5" fill="#1a1a1a">2% O<tspan font-size="40" dy="11">2</tspan><tspan dy="-11"> /</tspan><tspan dx="0"> 3 mg% glucose</tspan></text><line x1="1278" y1="1321.5" x2="1355" y2="1321.5" stroke="#9a28cc" stroke-width="6.5" stroke-dasharray="17 16.5"/><text x="1399.5" y="1333.2" font-family="Liberation Sans, Arial, sans-serif" font-size="54.5" fill="#1a1a1a" font-style="italic">2% O<tspan font-size="40" dy="11">2</tspan><tspan dy="-11"> /</tspan><tspan dx="12"> 80 mg% glucose</tspan></text><line x1="1280" y1="1387" x2="1357" y2="1387" stroke="#e97b2c" stroke-width="6.5" stroke-dasharray="17 16.5"/><text x="1400.4" y="1398.2" font-family="Liberation Sans, Arial, sans-serif" font-size="54.5" fill="#1a1a1a" font-style="italic">8% O<tspan font-size="40" dy="11">2</tspan><tspan dy="-11"> /</tspan><tspan dx="12"> 80 mg% glucose</tspan></text>
<text x="725.2" y="1878.7" font-family="Liberation Sans, Arial, sans-serif" font-size="55.2" fill="#1a1a1a">n=6 for all experiments</text>
</svg></body></html>
